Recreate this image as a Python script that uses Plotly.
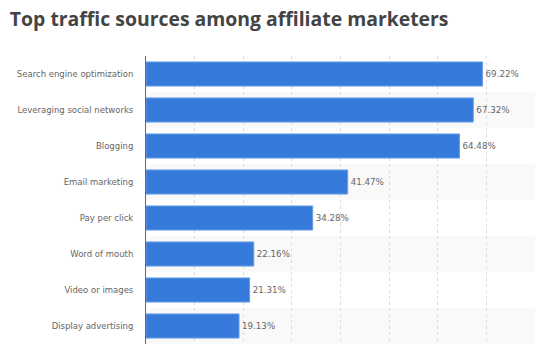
import plotly.graph_objects as go

categories = ["Search engine optimization", "Leveraging social networks", "Blogging",
              "Email marketing", "Pay per click", "Word of mouth", "Video or images",
              "Display advertising"]
values = [69.22, 67.32, 64.48, 41.47, 34.28, 22.16, 21.31, 19.13]
labels = [f"{v:.2f}%" for v in values]

fig = go.Figure()
fig.add_trace(go.Bar(
    x=values, y=categories, orientation="h",
    marker=dict(color="#367bdb", line=dict(color="#6a9de6", width=1)),
    width=0.67,
    text=labels, textposition="outside", cliponaxis=False,
    textfont=dict(family="DejaVu Sans", size=8.7, color="#666666"),
    hoverinfo="skip",
))

shapes = []
for i, c in enumerate(categories):
    if i % 2 == 1:
        shapes.append(dict(type="rect", xref="paper", yref="y", x0=0, x1=1,
                           y0=i - 0.5, y1=i + 0.5, fillcolor="#f9f9f9",
                           line=dict(width=0), layer="below"))

fig.update_layout(
    width=548, height=346,
    margin=dict(l=146, r=13, t=56, b=2),
    paper_bgcolor="white", plot_bgcolor="white",
    showlegend=False,
    shapes=shapes,
    title=dict(text="<b>Top traffic sources among affiliate marketers</b>",
               x=0.018, xanchor="left", y=0.945, yanchor="middle",
               font=dict(family="Open Sans", size=19.4, color="#444444")),
    xaxis=dict(range=[0, 80], dtick=10, showticklabels=False, showgrid=True,
               gridcolor="#dddddd", griddash="dot", gridwidth=1, zeroline=False,
               showline=False, fixedrange=True),
    yaxis=dict(autorange="reversed", showline=True, linecolor="#666666", linewidth=1,
               ticks="", ticklabelstandoff=10,
               tickfont=dict(family="DejaVu Sans", size=8.5, color="#666666"),
               showgrid=False, fixedrange=True),
    bargap=0.33,
)
fig.write_html("out.html")
